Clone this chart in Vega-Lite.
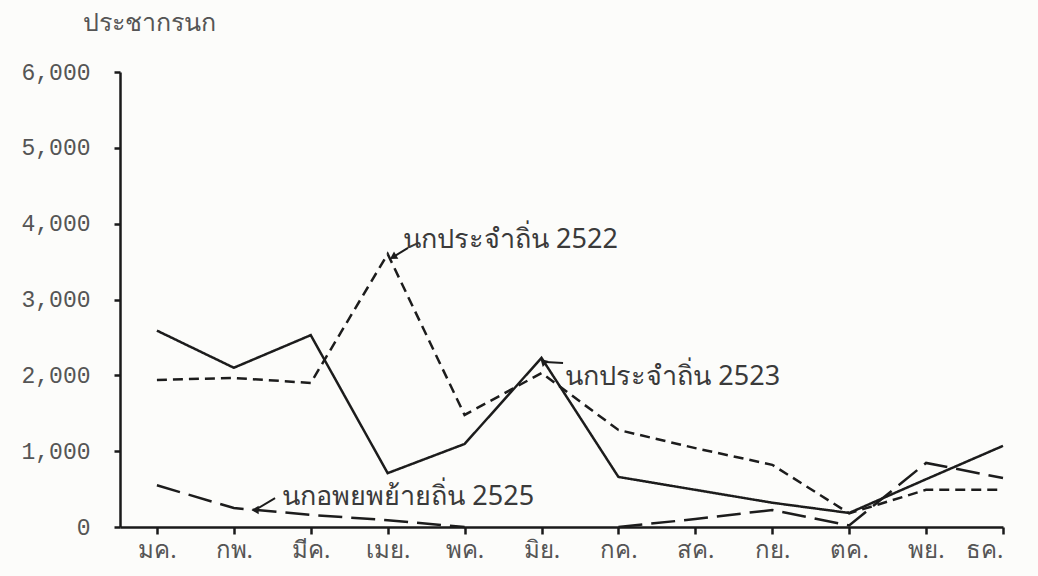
{
  "$schema": "https://vega.github.io/schema/vega-lite/v6.json",
  "width": 883,
  "height": 455,
  "autosize": "none",
  "padding": {"left": 120, "top": 72, "right": 35, "bottom": 49},
  "background": "#fcfcfa",
  "config": {"view": {"stroke": null}},
  "datasets": {
    "birds": [
      {"month": 1, "series": "นกประจำถิ่น 2523", "count": 2590},
      {"month": 2, "series": "นกประจำถิ่น 2523", "count": 2100},
      {"month": 3, "series": "นกประจำถิ่น 2523", "count": 2530},
      {"month": 4, "series": "นกประจำถิ่น 2523", "count": 710},
      {"month": 5, "series": "นกประจำถิ่น 2523", "count": 1095},
      {"month": 6, "series": "นกประจำถิ่น 2523", "count": 2230},
      {"month": 7, "series": "นกประจำถิ่น 2523", "count": 660},
      {"month": 8, "series": "นกประจำถิ่น 2523", "count": 490},
      {"month": 9, "series": "นกประจำถิ่น 2523", "count": 320},
      {"month": 10, "series": "นกประจำถิ่น 2523", "count": 185},
      {"month": 11, "series": "นกประจำถิ่น 2523", "count": 630},
      {"month": 12, "series": "นกประจำถิ่น 2523", "count": 1070},
      {"month": 1, "series": "นกประจำถิ่น 2522", "count": 1940},
      {"month": 2, "series": "นกประจำถิ่น 2522", "count": 1965},
      {"month": 3, "series": "นกประจำถิ่น 2522", "count": 1900},
      {"month": 4, "series": "นกประจำถิ่น 2522", "count": 3600},
      {"month": 5, "series": "นกประจำถิ่น 2522", "count": 1478},
      {"month": 6, "series": "นกประจำถิ่น 2522", "count": 2030},
      {"month": 7, "series": "นกประจำถิ่น 2522", "count": 1280},
      {"month": 8, "series": "นกประจำถิ่น 2522", "count": 1040},
      {"month": 9, "series": "นกประจำถิ่น 2522", "count": 820},
      {"month": 10, "series": "นกประจำถิ่น 2522", "count": 180},
      {"month": 11, "series": "นกประจำถิ่น 2522", "count": 490},
      {"month": 12, "series": "นกประจำถิ่น 2522", "count": 490},
      {"month": 1, "series": "นกอพยพย้ายถิ่น 2525", "count": 550},
      {"month": 2, "series": "นกอพยพย้ายถิ่น 2525", "count": 250},
      {"month": 3, "series": "นกอพยพย้ายถิ่น 2525", "count": 160},
      {"month": 4, "series": "นกอพยพย้ายถิ่น 2525", "count": 90},
      {"month": 5, "series": "นกอพยพย้ายถิ่น 2525", "count": 0},
      {"month": 6, "series": "นกอพยพย้ายถิ่น 2525", "count": null},
      {"month": 7, "series": "นกอพยพย้ายถิ่น 2525", "count": 0},
      {"month": 8, "series": "นกอพยพย้ายถิ่น 2525", "count": 105},
      {"month": 9, "series": "นกอพยพย้ายถิ่น 2525", "count": 225},
      {"month": 10, "series": "นกอพยพย้ายถิ่น 2525", "count": 20},
      {"month": 11, "series": "นกอพยพย้ายถิ่น 2525", "count": 845},
      {"month": 12, "series": "นกอพยพย้ายถิ่น 2525", "count": 645}
    ],
    "notes": [
      {"label": "นกประจำถิ่น 2522", "month": 4.2, "count": 3680, "month2": 4.265, "count2": 3680, "tipMonth": 4.07, "tipCount": 3560},
      {"label": "นกประจำถิ่น 2523", "month": 6.31, "count": 1873, "month2": 6.28, "count2": 2163, "tipMonth": 6.047, "tipCount": 2176},
      {"label": "นกอพยพย้ายถิ่น 2525", "month": 2.63, "count": 290, "month2": 2.536, "count2": 382, "tipMonth": 2.276, "tipCount": 224}
    ]
  },
  "layer": [
    {
      "data": {"name": "birds"},
      "mark": {"type": "line", "color": "#1c1c1c", "strokeWidth": 2.5, "invalid": "break-paths-show-domains"},
      "encoding": {
        "x": {
          "field": "month",
          "type": "quantitative",
          "scale": {"domain": [0.52, 12], "nice": false, "zero": false},
          "axis": {
            "title": null,
            "values": [1, 2, 3, 4, 5, 6, 7, 8, 9, 10, 11, 12],
            "labelExpr": "['มค.','กพ.','มีค.','เมย.','พค.','มิย.','กค.','สค.','กย.','ตค.','พย.','ธค.'][datum.value - 1]",
            "grid": false,
            "domainColor": "#1a1a1a",
            "domainWidth": 2.5,
            "tickColor": "#1a1a1a",
            "tickWidth": 2.5,
            "tickSize": 7,
            "labelFontSize": 24,
            "labelColor": "#555555",
            "labelPadding": 4,
            "labelFont": "Noto Sans"
          }
        },
        "y": {
          "field": "count",
          "type": "quantitative",
          "scale": {"domain": [0, 6000], "nice": false},
          "axis": {
            "values": [0, 1000, 2000, 3000, 4000, 5000, 6000],
            "format": ",d",
            "grid": false,
            "domainColor": "#1a1a1a",
            "domainWidth": 2.5,
            "tickColor": "#1a1a1a",
            "tickWidth": 2.5,
            "tickSize": 6,
            "labelFont": "Liberation Mono",
            "labelFontSize": 23,
            "labelColor": "#555555",
            "labelPadding": 24,
            "title": "ประชากรนก",
            "titleAngle": 0,
            "titleX": 29,
            "titleY": -50,
            "titleAlign": "center",
            "titleBaseline": "middle",
            "titleFont": "Noto Sans",
            "titleFontSize": 25,
            "titleFontWeight": "normal",
            "titleColor": "#555555"
          }
        },
        "strokeDash": {
          "field": "series",
          "type": "nominal",
          "scale": {
            "domain": ["นกประจำถิ่น 2522", "นกประจำถิ่น 2523", "นกอพยพย้ายถิ่น 2525"],
            "range": [[10, 6], [1, 0], [24, 9]]
          },
          "legend": null
        }
      }
    },
    {
      "data": {"name": "notes"},
      "mark": {"type": "rule", "color": "#1c1c1c", "strokeWidth": 2},
      "encoding": {
        "x": {"field": "month2", "type": "quantitative"},
        "y": {"field": "count2", "type": "quantitative"},
        "x2": {"field": "tipMonth"},
        "y2": {"field": "tipCount"}
      }
    },
    {
      "data": {"name": "notes"},
      "mark": {"type": "point", "shape": "triangle-left", "filled": true, "color": "#1c1c1c", "size": 70, "opacity": 1},
      "encoding": {
        "x": {"field": "tipMonth", "type": "quantitative"},
        "y": {"field": "tipCount", "type": "quantitative"},
        "angle": {
          "field": "label",
          "type": "nominal",
          "scale": {
            "domain": ["นกประจำถิ่น 2522", "นกประจำถิ่น 2523", "นกอพยพย้ายถิ่น 2525"],
            "range": [329, 0, 329]
          },
          "legend": null
        }
      }
    },
    {
      "data": {"name": "notes"},
      "mark": {"type": "text", "align": "left", "baseline": "alphabetic", "font": "Noto Sans", "fontSize": 27, "color": "#3a3a3a"},
      "encoding": {
        "x": {"field": "month", "type": "quantitative"},
        "y": {"field": "count", "type": "quantitative"},
        "text": {"field": "label"}
      }
    }
  ]
}
